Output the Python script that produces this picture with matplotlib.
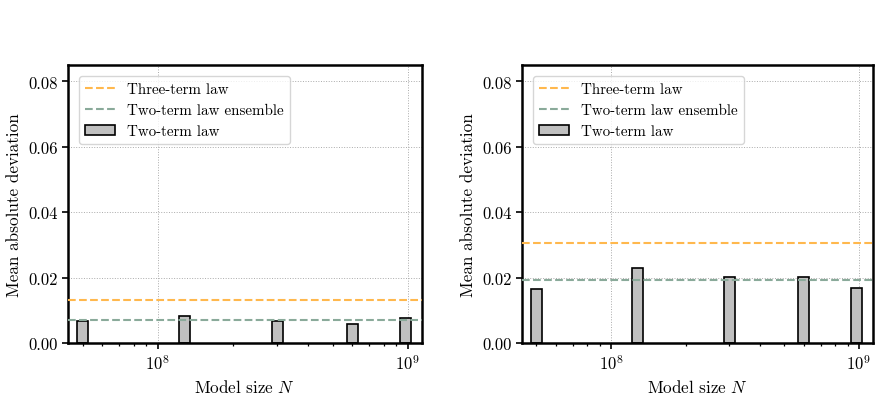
import numpy as np
import matplotlib
matplotlib.use("Agg")
import matplotlib.pyplot as plt

plt.rcParams['font.family'] = 'serif'
plt.rcParams['font.serif'] = ['cmr10']
plt.rcParams['mathtext.fontset'] = 'cm'
plt.rcParams['axes.formatter.use_mathtext'] = True
plt.rcParams['axes.unicode_minus'] = False

model_sizes = [5e7, 1.28e8, 3e8, 6e8, 9.8e8]
two_term_left = [0.0068, 0.0082, 0.0068, 0.0059, 0.0075]
three_term_left = 0.0131
ensemble_left = 0.0070
two_term_right = [0.0166, 0.0230, 0.0201, 0.0202, 0.0168]
three_term_right = 0.0305
ensemble_right = 0.0192
yticks = [0.0, 0.02, 0.04, 0.06, 0.08]

orange = '#FFB84D'
green = '#8AAA9A'

fig = plt.figure(figsize=(8.87, 4.14), dpi=100)
axes = [fig.add_axes([68/887, 1-344/414, 354/887, 278/414]),
        fig.add_axes([522/887, 1-344/414, 351/887, 278/414])]

half = 10**0.022
for ax, bars, three, ens in [(axes[0], two_term_left, three_term_left, ensemble_left),
                             (axes[1], two_term_right, three_term_right, ensemble_right)]:
    ax.set_xscale('log')
    x = np.array(model_sizes)
    ax.axhline(three, color=orange, ls='--', lw=1.5, label='Three-term law', zorder=3)
    ax.axhline(ens, color=green, ls='--', lw=1.5, label='Two-term law ensemble', zorder=3)
    ax.bar(x / half, bars, width=x * half - x / half, align='edge', color='#C0C0C0',
           edgecolor='black', lw=1.2, label='Two-term law', zorder=2)
    ax.set_xlim(4.37e7, 1.14e9)
    ax.set_ylim(0, 0.085)
    ax.set_yticks(yticks)
    ax.set_yticklabels([f'{t:.2f}' for t in yticks])
    ax.grid(True, which='major', ls=':', color='#aaaaaa', lw=0.7, zorder=0)
    ax.set_axisbelow(True)
    for s in ax.spines.values():
        s.set_linewidth(1.8)
    ax.tick_params(labelsize=12, width=1.2, length=4)
    ax.tick_params(which='minor', width=0.9, length=2.5)
    ax.set_xlabel('Model size $N$', fontsize=12.3)
    ax.set_ylabel('Mean absolute deviation', fontsize=12.3)
    ax.legend(loc='upper left', fontsize=10.8, framealpha=0.8, edgecolor='#cccccc',
              fancybox=True, borderaxespad=0.75)

fig.savefig('out.png', dpi=100)
